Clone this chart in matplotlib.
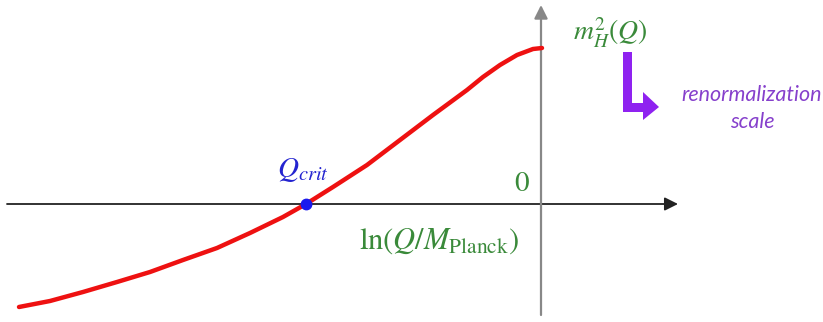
import matplotlib.pyplot as plt
from matplotlib.patches import Polygon

plt.rcParams['mathtext.fontset'] = 'stix'

# running higgs mass parameter vs ln(Q/M_Planck)
lnQ = [-5.22, -4.91, -4.58, -4.24, -3.91, -3.58, -3.24, -2.91, -2.58, -2.35,
       -2.08, -1.74, -1.41, -1.08, -0.74, -0.58, -0.41, -0.24, -0.08, 0.01]
mH2 = [-1.03, -0.97, -0.88, -0.78, -0.68, -0.56, -0.44, -0.29, -0.13, 0.0,
       0.17, 0.39, 0.64, 0.89, 1.14, 1.27, 1.39, 1.49, 1.55, 1.56]
Qcrit = -2.35

green = '#3a8a3a'
purple = '#8f22f0'

fig = plt.figure(figsize=(8.23, 3.22), dpi=100)
ax = fig.add_axes([0, 0, 1, 1])
ax.set_xlim(-5.41, 2.82)
ax.set_ylim(-1.18, 2.04)
ax.axis('off')

# axes with arrows
ax.annotate('', xy=(1.37, 0.0), xytext=(-5.34, 0.0),
            arrowprops=dict(arrowstyle='-|>', color='#222222', lw=1.3,
                            mutation_scale=20, shrinkA=0, shrinkB=0))
ax.annotate('', xy=(0.0, 1.99), xytext=(0.0, -1.11),
            arrowprops=dict(arrowstyle='-|>', color='#888888', lw=1.6,
                            mutation_scale=20, shrinkA=0, shrinkB=0))

ax.plot(lnQ, mH2, color='#ee1111', lw=3.2, solid_capstyle='round',
        solid_joinstyle='round', zorder=3)
ax.plot([Qcrit], [0.0], 'o', color='#1a1aee', ms=7.5, zorder=4)

ax.text(-2.38, 0.34, r'$Q_{crit}$', color='#2424d0', fontsize=21,
        ha='center', va='center')
ax.text(-0.19, 0.21, r'$0$', color=green, fontsize=21, ha='center', va='center')
ax.text(-1.02, -0.37, r'$\ln(Q/M_{\mathrm{Planck}})$', color=green, fontsize=22,
        ha='center', va='center')
ax.text(0.69, 1.71, r'$m_H^2(Q)$', color=green, fontsize=20,
        ha='center', va='center')

# bent arrow pointing to the right
arr = [(0.82, 1.52), (0.91, 1.52), (0.91, 1.01), (1.02, 1.01), (1.02, 1.12),
       (1.18, 0.97), (1.02, 0.84), (1.02, 0.92), (0.82, 0.92)]
ax.add_patch(Polygon(arr, closed=True, color=purple, lw=0))
ax.text(2.11, 0.955, 'renormalization\nscale', color='#8640cc', fontsize=15.5,
        style='italic', family='Lato', ha='center', va='center', linespacing=1.4)

fig.savefig('out.png', dpi=100)
plt.close(fig)
